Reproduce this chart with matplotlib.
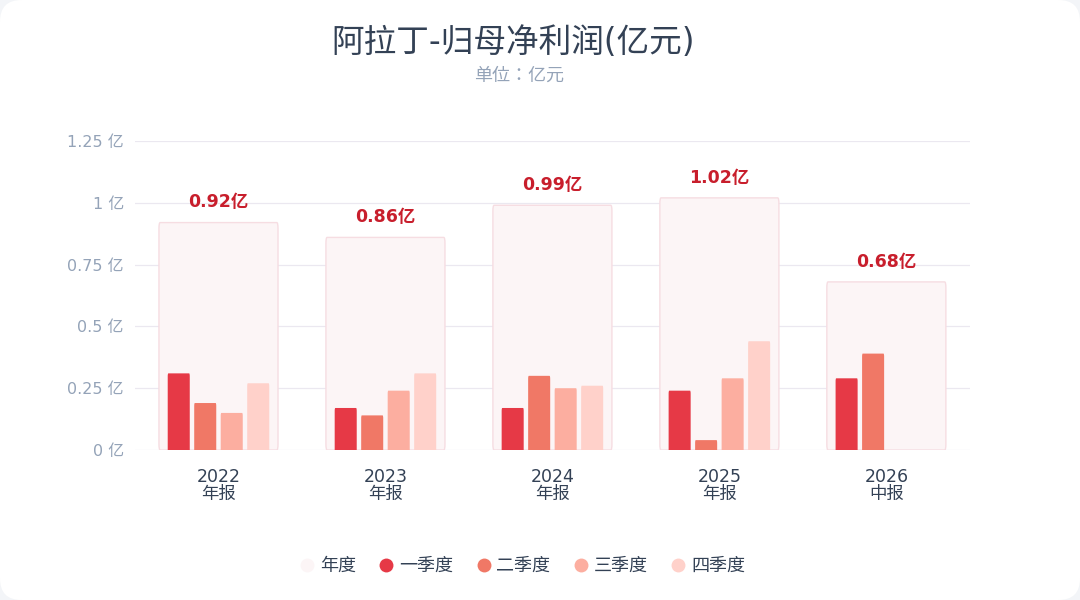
import matplotlib
matplotlib.use("Agg")
import matplotlib.pyplot as plt
from matplotlib.patches import FancyBboxPatch
from matplotlib.lines import Line2D
import numpy as np

plt.rcParams['font.family'] = ['DejaVu Sans', 'Noto Sans CJK SC']

# ---- data ----
periods = ["2022", "2023", "2024", "2025", "2026"]
period_types = ["年报", "年报", "年报", "年报", "中报"]
annual = [0.92, 0.86, 0.99, 1.02, 0.68]
q1 = [0.31, 0.17, 0.17, 0.24, 0.29]
q2 = [0.19, 0.14, 0.30, 0.04, 0.39]
q3 = [0.15, 0.24, 0.25, 0.29, 0.0]
q4 = [0.27, 0.31, 0.26, 0.44, 0.0]
yticks = [0, 0.25, 0.5, 0.75, 1, 1.25]
ytick_labels = ["0 亿", "0.25 亿", "0.5 亿", "0.75 亿", "1 亿", "1.25 亿"]
series_names = ["年度", "一季度", "二季度", "三季度", "四季度"]

# ---- styles ----
c_annual_fill = "#fcf5f6"
c_annual_edge = "#f6dde2"
q_colors = ["#e63946", "#f07866", "#fcaea0", "#ffd1ca"]
c_title = "#334155"
c_sub = "#94a3b8"
c_value = "#c81e2c"

fig = plt.figure(figsize=(10.8, 6.0), dpi=100)
fig.patch.set_facecolor("#f3f5f8")
bg = FancyBboxPatch((0, 0), 1, 1, boxstyle="round,pad=0,rounding_size=0.02",
                    transform=fig.transFigure, facecolor="white", edgecolor="none",
                    mutation_aspect=1.8, zorder=-10)
fig.patches.append(bg)

ax = fig.add_axes([0.125, 0.25, 0.773, 0.515])
ax.set_facecolor("none")
x = np.arange(len(periods))
ax.set_xlim(-0.5, len(periods) - 0.5)
ax.set_ylim(0, 1.25)

# pixel scale helpers
xpp = 1.0 / (0.773 * 1080)    # data x per px
ypp = 1.25 / (0.515 * 600)    # data y per px
aspect = ypp / xpp

# annual background boxes
box_w = 0.713
ann_bars = ax.bar(x, annual, width=box_w, color="none")
for b in ann_bars:
    b.set_visible(False)
    r = 6 * xpp
    p = FancyBboxPatch((b.get_x(), b.get_y()), b.get_width(), b.get_height(),
                       boxstyle=f"round,pad=0,rounding_size={r}",
                       mutation_aspect=aspect, facecolor=c_annual_fill,
                       edgecolor=c_annual_edge, linewidth=1.0, zorder=1)
    ax.add_patch(p)

for xi, v in zip(x, annual):
    ax.annotate(f"{v:.2f}亿", (xi, v), xytext=(0, 8), textcoords="offset points",
                ha="center", va="bottom", fontsize=12.5, fontweight="bold",
                color=c_value, zorder=5)

# quarterly bars
step = 0.1587
bw = 0.132
offsets = [-1.5, -0.5, 0.5, 1.5]
for qi, (vals, col) in enumerate(zip([q1, q2, q3, q4], q_colors)):
    bars = ax.bar(x + offsets[qi] * step, vals, width=bw, color=col)
    for b in bars:
        b.set_visible(False)
        h = b.get_height()
        if h <= 0:
            continue
        r = 3 * xpp
        ext = 4 * ypp
        p = FancyBboxPatch((b.get_x(), -ext), b.get_width(), h + ext,
                           boxstyle=f"round,pad=0,rounding_size={r}",
                           mutation_aspect=aspect, facecolor=col,
                           edgecolor="none", zorder=3)
        p.set_clip_path(ax.patch)
        ax.add_patch(p)

# axes styling
for s in ax.spines.values():
    s.set_visible(False)
ax.set_yticks(yticks)
ax.set_yticklabels(ytick_labels, fontsize=11.5, color=c_sub)
ax.set_xticks(x)
ax.set_xticklabels([f"{p}\n{t}" for p, t in zip(periods, period_types)],
                   fontsize=12.5, color=c_title, linespacing=0.95)
ax.tick_params(axis="both", length=0)
ax.tick_params(axis="x", pad=13)
ax.tick_params(axis="y", pad=8)
ax.grid(axis="y", color="#ebe8f0", linewidth=0.9)
ax.set_axisbelow(True)

# titles
fig.text(0.475, 1 - 42 / 600, "阿拉丁-归母净利润(亿元)", ha="center", va="center",
         fontsize=23.5, color=c_title)
fig.text(0.481, 1 - 76 / 600, "单位：亿元", ha="center", va="center",
         fontsize=13, color=c_sub, family=['Noto Sans CJK JP', 'DejaVu Sans'])

# legend
handles = [Line2D([], [], marker="o", linestyle="none", markersize=10,
                  markerfacecolor=c, markeredgecolor="none")
           for c in [c_annual_fill] + q_colors]
leg = fig.legend(handles, series_names, loc="center", ncol=5,
                 bbox_to_anchor=(0.482, 1 - 566 / 600), frameon=False,
                 fontsize=13, handletextpad=0.1, columnspacing=1.1,
                 handlelength=1.2)
for t in leg.get_texts():
    t.set_color(c_title)

fig.savefig("out.png", dpi=100, facecolor=fig.get_facecolor())
